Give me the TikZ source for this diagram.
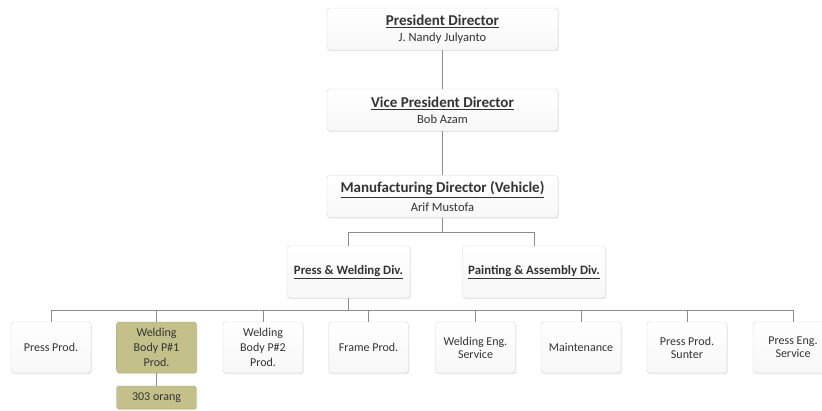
\documentclass[tikz,border=0pt]{standalone}
\usepackage{fontspec}
\setmainfont{Carlito}
\usepackage{xcolor}
\usetikzlibrary{shadows}
\definecolor{lineGray}{HTML}{8C8C8C}
\definecolor{boxBorder}{HTML}{D6D6D6}
\definecolor{textGray}{HTML}{333333}
\definecolor{oliveFill}{HTML}{C3C08A}
\definecolor{oliveBorder}{HTML}{A8A46C}

\begin{document}
\begin{tikzpicture}[x=1pt, y=-1pt,
    box/.style={draw=boxBorder, rounded corners=3pt, top color=white, bottom color=gray!6,
        drop shadow={opacity=0.18, shadow xshift=0.8pt, shadow yshift=-1.2pt},
        text=textGray, align=center, inner sep=2pt},
    leadBox/.style={box, minimum width=231pt, minimum height=42pt},
    divBox/.style={box, minimum height=52pt, font=\fontsize{12.8}{15}\selectfont\bfseries},
    unitBox/.style={box, minimum width=80pt, minimum height=51pt, font=\fontsize{12}{14.8}\selectfont},
    hiBox/.style={unitBox, draw=oliveBorder, top color=oliveFill, bottom color=oliveFill},
    link/.style={draw=lineGray, line width=0.8pt}]
    \useasboundingbox (0,0) rectangle (822,410);
    % directors
    \node[leadBox] (pres) at (442.5,29) {{\fontsize{15}{17}\selectfont\bfseries\underline{President Director}}\\[4pt] {\fontsize{12.5}{14}\selectfont J. Nandy Julyanto}};
    \node[leadBox] (vice) at (442.5,110) {{\fontsize{15}{17}\selectfont\bfseries\underline{Vice President Director}}\\[4pt] {\fontsize{12.5}{14}\selectfont Bob Azam}};
    \node[leadBox] (mfg) at (442.5,196.5) {{\fontsize{15}{17}\selectfont\bfseries\underline{Manufacturing Director (Vehicle)}}\\[4pt] {\fontsize{12.5}{14}\selectfont Arif Mustofa}};
    % divisions
    \node[divBox, minimum width=123pt] (pwd) at (348.5,272) {\underline{Press \& Welding Div.}};
    \node[divBox, minimum width=143pt] (pad) at (534,272) {\underline{Painting \& Assembly Div.}};
    % units
    \node[unitBox] (press) at (51,347.5) {Press Prod.};
    \node[hiBox] (weldA) at (156.5,347.5) {Welding\\Body P\#1\\Prod.};
    \node[unitBox] (weldB) at (263,347.5) {Welding\\Body P\#2\\Prod.};
    \node[unitBox] (frame) at (368.5,347.5) {Frame Prod.};
    \node[unitBox] (weldEng) at (475.5,347.5) {Welding Eng.\\[-2pt]Service};
    \node[unitBox] (maint) at (581,347.5) {Maintenance};
    \node[unitBox] (sunter) at (687,347.5) {Press Prod.\\[-2pt]Sunter};
    \node[unitBox] (pressEng) at (793,347.5) {Press Eng.\\[-2pt]Service};
    \node[hiBox, minimum height=23pt] (crew) at (156.5,397.5) {303 orang};
    % connectors
    \coordinate (divBus) at (442.5,232);
    \coordinate (unitBus) at (348.5,310);
    \draw[link] (pres) -- (vice);
    \draw[link] (vice) -- (mfg);
    \draw[link] (mfg) -- (divBus);
    \draw[link] (divBus) -| (pwd);
    \draw[link] (divBus) -| (pad);
    \draw[link] (pwd) -- (unitBus);
    \foreach \u in {press, weldA, weldB, frame, weldEng, maint, sunter, pressEng}
        \draw[link] (unitBus) -| (\u);
    \draw[link] (weldA) -- (crew);
\end{tikzpicture}
\end{document}
